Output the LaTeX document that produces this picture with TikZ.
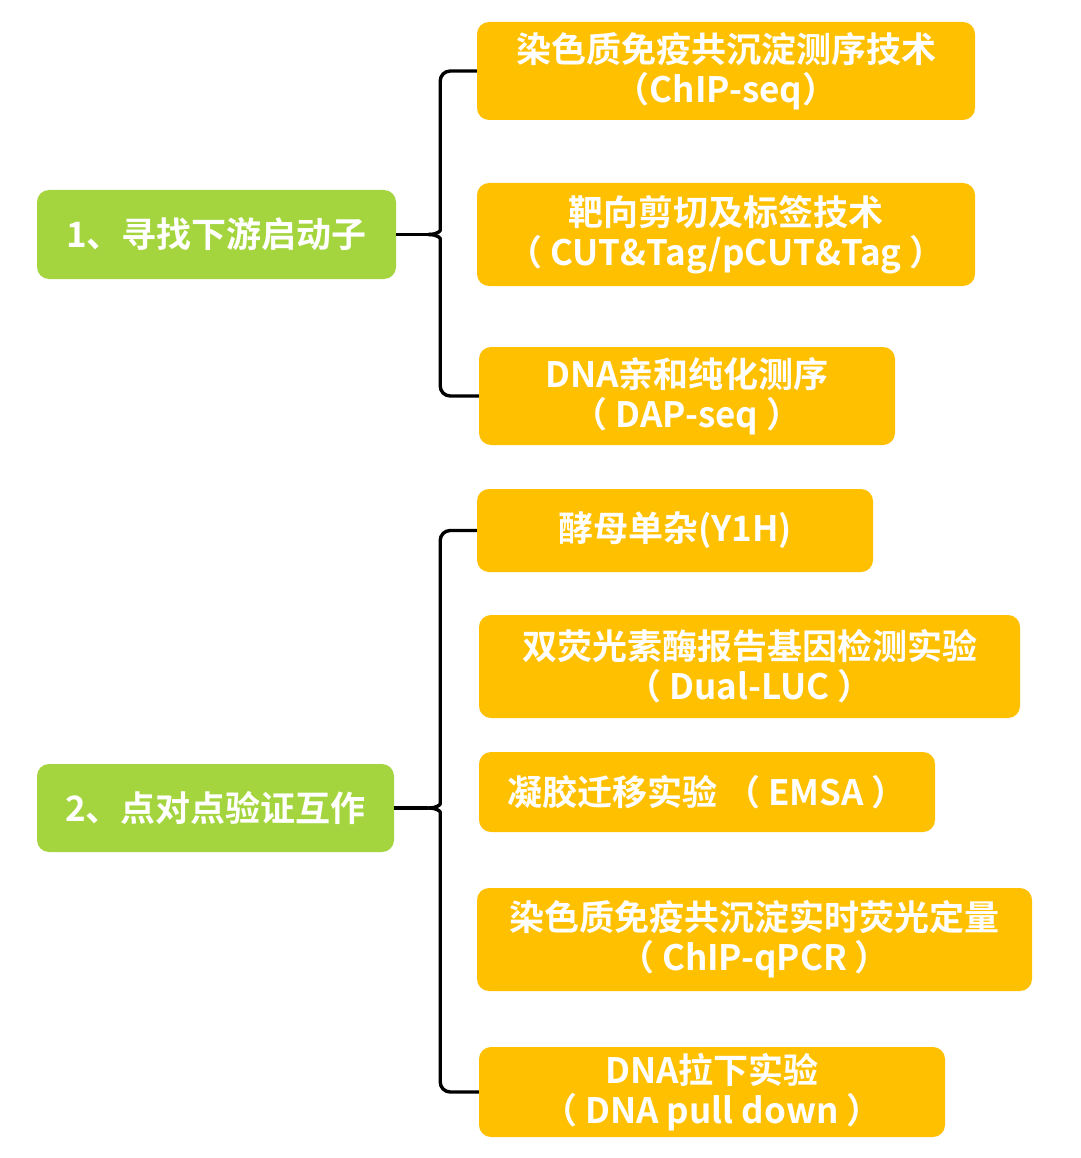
\documentclass[tikz,border=0pt]{standalone}
\usepackage{fontspec}
\setmainfont{Noto Sans CJK SC}[BoldFont={Noto Sans CJK SC Bold}]
\usepackage{xcolor}
\usetikzlibrary{positioning}
\definecolor{topicgreen}{HTML}{A4D53F}
\definecolor{methodorange}{HTML}{FFC000}
\tikzset{
  topic/.style={
    rectangle,
    rounded corners=12pt,
    fill=topicgreen,
    text=white,
    align=center,
    font=\fontsize{35}{40}\selectfont\bfseries
  },
  method/.style={
    rectangle,
    rounded corners=12pt,
    fill=methodorange,
    text=white,
    align=center,
    font=\fontsize{35}{40}\selectfont\bfseries
  },
  brace/.style={line width=3.4pt,draw=black,line join=round,rounded corners=10pt}
}
\begin{document}
\begin{tikzpicture}[x=1pt,y=1pt]
  \useasboundingbox[fill=white] (0,0) rectangle (1080,-1158);

  % first group
  \node[topic, minimum width=359pt, minimum height=89pt] (find) at (216.5,-234.5) {1、寻找下游启动子};

  \node[method, minimum width=498pt, minimum height=98pt] (chipseq) at (726,-71) {
    染色质免疫共沉淀测序技术\\
    （ChIP-seq）
  };
  \node[method, minimum width=498pt, minimum height=103pt] (cuttag) at (726,-234.5) {
    靶向剪切及标签技术\\
    （ CUT\&Tag/pCUT\&Tag ）
  };
  \node[method, minimum width=416pt, minimum height=98pt] (dapseq) at (687,-396) {
    DNA亲和纯化测序\\
    （ DAP-seq ）
  };

  % second group
  \node[topic, minimum width=357pt, minimum height=88pt] (verify) at (215.5,-808) {2、点对点验证互作};

  \node[method, minimum width=396pt, minimum height=83pt] (yeast) at (675,-530.5) {酵母单杂(Y1H)};
  \node[method, minimum width=541pt, minimum height=103pt] (dualluc) at (749.5,-666.5) {
    双荧光素酶报告基因检测实验\\
    （ Dual-LUC ）
  };
  \node[method, minimum width=456pt, minimum height=80pt] (emsa) at (707,-792) {凝胶迁移实验 （ EMSA ）};
  \node[method, minimum width=555pt, minimum height=103pt] (chipqpcr) at (754.5,-939.5) {
    染色质免疫共沉淀实时荧光定量\\
    （ ChIP-qPCR ）
  };
  \node[method, minimum width=466pt, minimum height=90pt] (pulldown) at (712,-1092) {
    DNA拉下实验\\
    （ DNA pull down ）
  };

  % braces
  \draw[brace] (find.east) -- ++(32pt,0) coordinate (tipA);
  \draw[brace] (tipA) .. controls +(10pt,0) and +(0,-10pt) .. ++(12pt,14pt) |- (chipseq.west);
  \draw[brace] (tipA) .. controls +(10pt,0) and +(0,10pt) .. ++(12pt,-14pt) |- (dapseq.west);

  \draw[brace] (verify.east) -- ++(34pt,0) coordinate (tipB);
  \draw[brace] (tipB) .. controls +(10pt,0) and +(0,-10pt) .. ++(12pt,14pt) |- (yeast.west);
  \draw[brace] (tipB) .. controls +(10pt,0) and +(0,10pt) .. ++(12pt,-14pt) |- (pulldown.west);
\end{tikzpicture}
\end{document}
